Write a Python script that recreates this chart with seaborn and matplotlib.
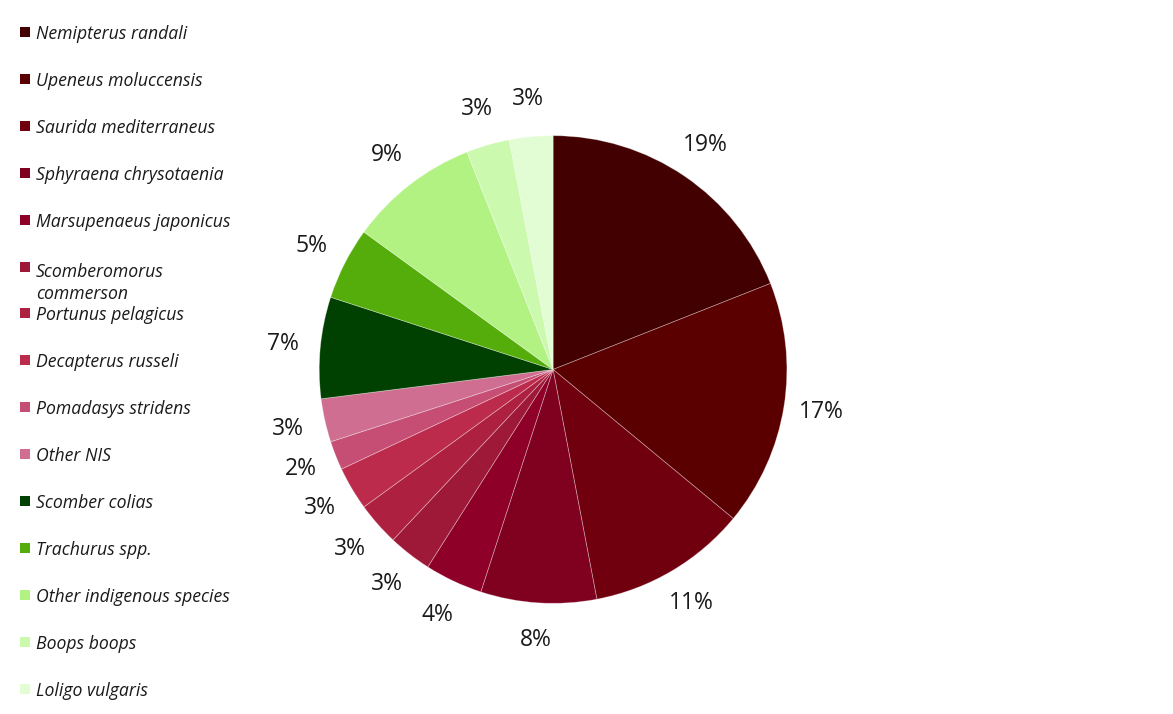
import seaborn as sns
import matplotlib.pyplot as plt
from matplotlib.patches import Rectangle

species = [
    "Nemipterus randali", "Upeneus moluccensis", "Saurida mediterraneus",
    "Sphyraena chrysotaenia", "Marsupenaeus japonicus", "Scomberomorus\ncommerson",
    "Portunus pelagicus", "Decapterus russeli", "Pomadasys stridens", "Other NIS",
    "Scomber colias", "Trachurus spp.", "Other indigenous species",
    "Boops boops", "Loligo vulgaris",
]
share = [19, 17, 11, 8, 4, 3, 3, 3, 2, 3, 7, 5, 9, 3, 3]
colors = [
    "#430000", "#5a0000", "#70000e", "#800020", "#8e0028", "#9e1838",
    "#ae2040", "#bc2a4c", "#c64e74", "#cf6e90",
    "#004000", "#55ad0b", "#b2f283", "#cbf9ae", "#e2fcd4",
]

sns.set_theme(style="white")
plt.rcParams['font.family'] = ['Open Sans', 'DejaVu Sans']
palette = sns.color_palette(colors)

fig = plt.figure(figsize=(11.73, 7.14), dpi=100)
ax = fig.add_axes([0.272, 0.155, 0.399, 0.655])
wedges, _, pcts = ax.pie(
    share, colors=palette, startangle=90, counterclock=False,
    autopct=lambda p: f"{p:.0f}%", pctdistance=1.16,
    wedgeprops=dict(edgecolor=(1, 1, 1, 0.35), linewidth=0.6),
    textprops=dict(fontsize=16.5, color="#1a1a1a"),
)
ax.set_xlim(-1, 1)
ax.set_ylim(-1, 1)
ax.set_aspect("equal")

# legend drawn by hand to keep the Excel-like row spacing
row_h = 46.9 / 714
y0 = 1 - 32 / 714
sq_w, sq_h = 10 / 1173, 10 / 714
for i, (name, c) in enumerate(zip(species, palette)):
    y = y0 - i * row_h
    fig.patches.append(Rectangle((20 / 1173, y - sq_h / 2), sq_w, sq_h,
                                 transform=fig.transFigure, facecolor=c,
                                 edgecolor="none"))
    # wrapped labels hang down from the first line
    shift = name.count("\n") * 12 / 714
    fig.text(36 / 1173, y - shift, name, fontsize=12.7, style="italic",
             va="center_baseline", ha="left", color="#1a1a1a",
             linespacing=1.3)

fig.savefig("out.png", dpi=100)
